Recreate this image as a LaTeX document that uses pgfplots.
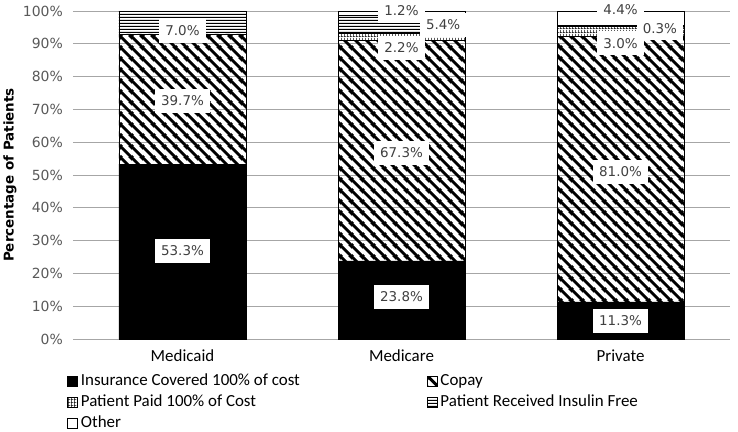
\documentclass[border=0pt]{standalone}
\usepackage{pgfplots}
\pgfplotsset{compat=1.18}
\usepackage{pgfplotstable}
\usepackage{fontspec}
\setmainfont{DejaVu Sans}
\newfontfamily\carlito{Carlito}
\usetikzlibrary{patterns.meta}

% thick "\" stripes for Copay
\tikzdeclarepattern{
  name=copaylines,
  bounding box={(0,0) and (11bp,11bp)},
  tile size={(11bp,11bp)},
  code={
    \draw[line width=3.2bp] (-1bp,12bp) -- (12bp,-1bp);
    \draw[line width=3.2bp] (-2bp,2bp) -- (2bp,-2bp);
    \draw[line width=3.2bp] (9bp,13bp) -- (13bp,9bp);
  }
}
% dense horizontal lines for insulin free
\tikzdeclarepattern{
  name=freelines,
  bounding box={(0,0) and (10bp,3.2bp)},
  tile size={(10bp,3.2bp)},
  code={\fill (-1bp,0) rectangle (11bp,1.5bp);}
}
% small grid for patient paid
\tikzdeclarepattern{
  name=paidgrid,
  bounding box={(0,0) and (2.6bp,3.4bp)},
  tile size={(2.6bp,3.4bp)},
  code={\fill (0,0) rectangle (0.7bp,3.4bp); \fill (0,0) rectangle (2.6bp,0.7bp);}
}

\definecolor{tickgray}{HTML}{595959}
\definecolor{lblgray}{HTML}{404040}
\definecolor{gridgray}{HTML}{A6A6A6}

\tikzset{lbl/.style={fill=white, text=lblgray, inner xsep=6bp, inner ysep=7bp, font=\fontsize{13.5}{15}\selectfont}}

\pgfplotstableread{
x ins copay paid free other
0 53.3 39.7 0 7.0 0
1 23.8 67.3 2.2 5.4 1.2
2 11.3 81.0 3.0 0.3 4.4
}\costdata

\begin{document}
\begin{tikzpicture}
\begin{axis}[
  at={(0,0)}, anchor=south west,
  scale only axis,
  width=657bp, height=328bp,
  ybar stacked,
  bar width=127bp,
  xmin=-0.5, xmax=2.5,
  ymin=0, ymax=100,
  xtick={0,1,2},
  xticklabels={Medicaid,Medicare,Private},
  ytick={0,10,...,100},
  yticklabels={0\%,10\%,20\%,30\%,40\%,50\%,60\%,70\%,80\%,90\%,100\%},
  major tick length=0pt,
  axis line style={draw=none},
  ymajorgrids,
  grid style={gridgray, line width=0.9bp},
  yticklabel style={font=\fontsize{14}{16}\selectfont, text=tickgray, inner sep=0pt, xshift=-10bp},
  xticklabel style={font=\carlito\fontsize{17}{19}\selectfont, text=black, yshift=-7bp},
  ylabel={Percentage of Patients},
  ylabel style={font=\bfseries\fontsize{13.5}{15}\selectfont, at={(axis description cs:-0.096,0.5)}, anchor=center},
  clip=false,
  every axis plot/.append style={draw=black, line width=0.8bp},
  legend columns=2,
  legend style={at={(axis description cs:-0.009,-0.105)}, anchor=north west,
    draw=none, fill=none, inner sep=0pt, row sep=5bp,
    font=\carlito\fontsize{17}{19}\selectfont,
    nodes={inner sep=0pt, text height=12bp, text depth=4bp},
    /tikz/column sep=3bp},
  legend cell align=left,
  legend image code/.code={\draw[#1, line width=0.6bp] (0bp,-4.5bp) rectangle (10bp,5.5bp);},
]
\addplot[fill=black] table[x=x, y=ins] \costdata;
\addlegendentry{\makebox[343bp][l]{Insurance Covered 100\% of cost}}
\addplot[fill=white, pattern=copaylines, pattern color=black] table[x=x, y=copay] \costdata;
\addlegendentry{Copay}
\addplot[fill=white, pattern=paidgrid, pattern color=black] table[x=x, y=paid] \costdata;
\addlegendentry{Patient Paid 100\% of Cost}
\addplot[fill=white, pattern=freelines, pattern color=black] table[x=x, y=free] \costdata;
\addlegendentry{Patient Received Insulin Free}
\addplot[fill=white] table[x=x, y=other] \costdata;
\addlegendentry{Other}

% anchor points for the data labels (drawn after the axis so they sit on top)
\coordinate (a1) at (axis cs:0,26.8);
\coordinate (a2) at (axis cs:0,72.6);
\coordinate (a3) at (axis cs:0,93.9);
\coordinate (b1) at (axis cs:1,12.8);
\coordinate (b2) at (axis cs:1,56.8);
\coordinate (b3) at (axis cs:1,88.7);
\coordinate (b4) at (axis cs:1.19,95.7);
\coordinate (b5) at (axis cs:1,100);
\coordinate (c1) at (axis cs:2,5.5);
\coordinate (c2) at (axis cs:2,51);
\coordinate (c3) at (axis cs:2,90.2);
\coordinate (c4) at (axis cs:2.18,94.7);
\coordinate (c5) at (axis cs:2,100.3);
\end{axis}
\node[lbl] at (a1) {53.3\%};
\node[lbl] at (a2) {39.7\%};
\node[lbl] at (a3) {7.0\%};
\node[lbl] at (b1) {23.8\%};
\node[lbl] at (b2) {67.3\%};
\node[lbl] at (b3) {2.2\%};
\node[lbl] at (b4) {5.4\%};
\node[lbl] at (b5) {1.2\%};
\node[lbl] at (c1) {11.3\%};
\node[lbl] at (c2) {81.0\%};
\node[lbl] at (c3) {3.0\%};
\node[lbl] at (c4) {0.3\%};
\node[lbl] at (c5) {4.4\%};
\pgfresetboundingbox
\path[use as bounding box] (-73bp,-93bp) rectangle (665bp,339bp);
\end{tikzpicture}
\end{document}
